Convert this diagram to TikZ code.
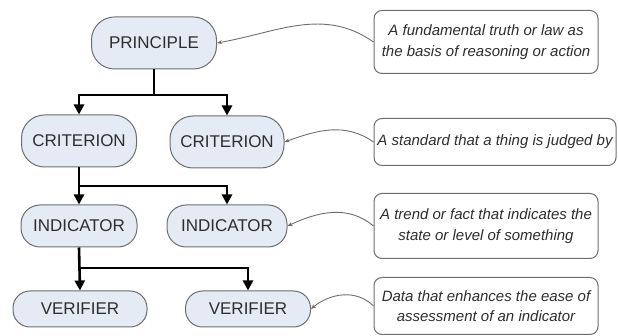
\documentclass[tikz,border=0pt]{standalone}
\usepackage{fontspec}
\setmainfont{Liberation Sans}
\usetikzlibrary{arrows.meta}

\definecolor{levelfill}{HTML}{E4EBF5}
\definecolor{boxline}{HTML}{6E6E6E}
\definecolor{labeltext}{HTML}{2E2E2E}

\tikzset{
  level/.style={draw=boxline, line width=1pt, fill=levelfill, rounded corners=23pt,
    minimum height=52pt, inner sep=0pt, text=labeltext, font=\fontsize{17}{20}\selectfont},
  defbox/.style={draw=boxline, line width=1pt, fill=white, rounded corners=8pt,
    align=center, inner sep=0pt, text=labeltext, font=\itshape\fontsize{15}{20.5}\selectfont},
  branch/.style={line width=2.6pt, -{Triangle[length=10pt,width=10pt]}},
  note/.style={draw=boxline, line width=0.9pt, -{Stealth[length=5pt,width=4pt]}}
}

\begin{document}
\begin{tikzpicture}[x=1pt,y=-1pt]
  \useasboundingbox (0,0) rectangle (618,336);

  % hierarchy
  \node[level, minimum width=125pt] (principle) at (154,43) {PRINCIPLE};
  \node[level, minimum width=115pt] (crit1) at (79,141) {CRITERION};
  \node[level, minimum width=114pt] (crit2) at (227,142) {CRITERION};
  \node[level, minimum width=116pt, minimum height=42pt, rounded corners=19pt] (ind1) at (79,226) {INDICATOR};
  \node[level, minimum width=120pt, minimum height=42pt, rounded corners=19pt] (ind2) at (227,226) {INDICATOR};
  \node[level, minimum width=134pt, minimum height=36pt, rounded corners=17pt] (ver1) at (80,309) {VERIFIER};
  \node[level, minimum width=125pt, minimum height=36pt, rounded corners=17pt] (ver2) at (248,309) {VERIFIER};

  % definitions
  \node[defbox, minimum width=224pt, minimum height=63pt] (def1) at (486,42)
    {A fundamental truth or law as\\the basis of reasoning or action};
  \node[defbox, minimum width=242pt, minimum height=47pt] (def2) at (495,142)
    {A standard that a thing is judged by};
  \node[defbox, minimum width=224pt, minimum height=65pt] (def3) at (486,226)
    {A trend or fact that indicates the\\state or level of something};
  \node[defbox, minimum width=224pt, minimum height=57pt] (def4) at (486,306)
    {Data that enhances the ease of\\assessment of an indicator};

  % branch points
  \coordinate (j1) at (154,95);
  \coordinate (j2) at (79,186);
  \coordinate (j3) at (79,268);

  \draw[branch] (principle.south) -- (j1) -| (crit1.north);
  \draw[branch] (j1) -| (crit2.north);
  \draw[branch] (crit1.south) -- (ind1.north);
  \draw[branch] (j2) -| (ind2.north);
  \draw[branch] (ind1.south) -- (ver1.north);
  \draw[branch] (j3) -| (ver2.north);

  % curved links to the definitions
  \draw[note] (def1.west) to[out=145, in=10] (principle.east);
  \draw[note] (def2.west) to[out=145, in=20] (crit2.east);
  \draw[note] (def3.west) to[out=140, in=25] (ind2.east);
  \draw[note] (def4.west) to[out=135, in=40] (ver2.east);
\end{tikzpicture}
\end{document}
